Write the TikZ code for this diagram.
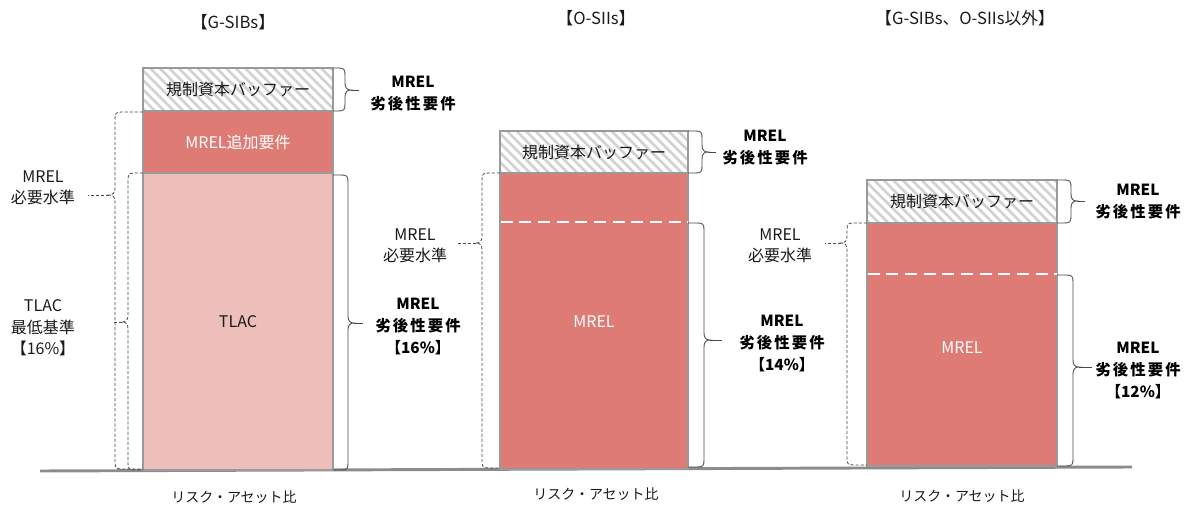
\documentclass[tikz,border=0pt]{standalone}
\usepackage{fontspec}
\setmainfont{Noto Sans CJK JP}
\usetikzlibrary{fit,calc}
\definecolor{darkred}{HTML}{DE7B75}
\definecolor{lightpink}{HTML}{EEBFBA}
\definecolor{barline}{HTML}{9A9A9A}
\definecolor{hatchc}{HTML}{D2D2D2}
\definecolor{bracec}{HTML}{4A4A4A}
\definecolor{basec}{HTML}{8C8C8C}
\definecolor{txt}{HTML}{1A1A1A}
\newcommand\lsp{\hspace{1.6pt}}
% right brace "}" : #1 bar edge x, #2 spine x, #3 leader end x, #4 ytop, #5 ytip, #6 ybot, #7 style
\newcommand\rbr[7]{%
  \draw[#7] (#1,#4) -- (#2-7,#4) .. controls (#2-1,#4) and (#2,#4+1) .. (#2,#4+7) -- (#2,#5-7)
    .. controls (#2,#5-2) and (#2+2,#5) .. (#2+6,#5) .. controls (#2+2,#5) and (#2,#5+2) .. (#2,#5+7) -- (#2,#6-7)
    .. controls (#2,#6-1) and (#2-1,#6) .. (#2-7,#6) -- (#1,#6);
  \draw[#7] (#2+6,#5) -- (#3,#5);}
% left brace "{"
\newcommand\lbr[7]{%
  \draw[#7] (#1,#4) -- (#2+7,#4) .. controls (#2+1,#4) and (#2,#4+1) .. (#2,#4+7) -- (#2,#5-7)
    .. controls (#2,#5-2) and (#2-2,#5) .. (#2-6,#5) .. controls (#2-2,#5) and (#2,#5+2) .. (#2,#5+7) -- (#2,#6-7)
    .. controls (#2,#6-1) and (#2+1,#6) .. (#2+7,#6) -- (#1,#6);
  \draw[#7] (#2-6,#5) -- (#3,#5);}
\newcommand\hatchbox[4]{%
  \begin{scope}
    \clip (#1,#2) rectangle (#3,#4);
    \foreach \i in {0,...,28} \draw[hatch] (#1-50+\i*9.5,#2) -- ++(50,50);
  \end{scope}}
\tikzset{
  barbox/.style={draw=barline, line width=0.8pt, inner sep=0pt},
  brc/.style={draw=bracec, line width=0.65pt},
  dbrc/.style={draw=bracec, line width=0.6pt, dash pattern=on 2.4pt off 1.4pt},
  hatch/.style={draw=hatchc, line width=2pt},
  wdash/.style={draw=white, line width=1.8pt, dash pattern=on 9pt off 5pt},
  lab/.style={align=center, font=\fontsize{12}{16}\selectfont, text=txt, inner sep=0pt},
  blab/.style={align=center, font=\fontsize{11.5}{16.5}\selectfont\bfseries, text=black, inner sep=0pt},
  ttl/.style={font=\fontsize{12.5}{14}\selectfont, text=txt, inner sep=0pt},
  axl/.style={font=\fontsize{10.5}{13}\selectfont, text=txt, inner sep=0pt},
}
\begin{document}
\begin{tikzpicture}[x=0.75pt, y=-0.75pt]
\useasboundingbox (0,0) rectangle (1197,506);

% base line
\coordinate (bl) at (40,471);
\coordinate (br) at (1132,467);
\draw[basec, line width=2.2pt] (bl) -- (br);

% titles
\node[ttl] (t1) at (233,22) {【G-SIBs】};
\node[ttl] (t2) at (596,18) {【O-SIIs】};
\node[ttl] (t3) at (965,18) {【G-SIBs、O-SIIs以外】};

% axis labels
\node[axl] (x1) at (234,497) {リスク・アセット比};
\node[axl] (x2) at (596,494) {リスク・アセット比};
\node[axl] (x3) at (962,496) {リスク・アセット比};

% ===== bar 1 =====
\node[barbox, fill=darkred, fit={(143,111)(333,173)}] (add1) {};
\node[barbox, fill=lightpink, fit={(143,173)(333,470)}] (tlac1) {};
\hatchbox{143}{68}{333}{111}
\node[barbox, fit={(143,68)(333,111)}] (buf1) {};
\node[lab] at (buf1.center) {規制資本バッファー};
\node[lab, text=white] at (add1.center) {MREL追加要件};
\node[lab] at (238,322) {TLAC};

\rbr{333}{345}{359}{68}{90}{111}{brc}
\rbr{333}{348}{363}{175}{323}{470}{brc}
\node[blab] (r1a) at (413,94) {MREL\\劣\lsp 後\lsp 性\lsp 要\lsp 件};
\node[blab] (r1b) at (418,327) {MREL\\劣\lsp 後\lsp 性\lsp 要\lsp 件\\【16\%】};

\lbr{143}{115}{88}{112}{195}{469}{dbrc}
\lbr{143}{128}{113}{173}{322}{470}{dbrc}
\node[lab] (l1a) at (43,188) {MREL\\必要水準};
\node[lab] (l1b) at (43,328) {TLAC\\最低基準\\【16\%】};

% ===== bar 2 =====
\node[barbox, fill=darkred, fit={(500,173)(688,469)}] (mrel2) {};
\hatchbox{500}{131}{688}{173}
\node[barbox, fit={(500,131)(688,173)}] (buf2) {};
\node[lab] at (buf2.center) {規制資本バッファー};
\node[lab, text=white] at (594,322) {MREL};
\draw[wdash] (500.5,222) -- (687.5,222);

\rbr{688}{702}{716}{131}{152}{173}{brc}
\rbr{688}{704}{722}{223}{340}{467}{brc}
\node[blab] (r2a) at (765,148) {MREL\\劣\lsp 後\lsp 性\lsp 要\lsp 件};
\node[blab] (r2b) at (782,344) {MREL\\劣\lsp 後\lsp 性\lsp 要\lsp 件\\【14\%】};

\lbr{500}{482}{458}{173}{243}{468}{dbrc}
\node[lab] (l2) at (415,246) {MREL\\必要水準};

% ===== bar 3 =====
\node[barbox, fill=darkred, fit={(867,223)(1057,466)}] (mrel3) {};
\hatchbox{867}{180}{1057}{223}
\node[barbox, fit={(867,180)(1057,223)}] (buf3) {};
\node[lab] at (buf3.center) {規制資本バッファー};
\node[lab, text=white] at (962,348) {MREL};
\draw[wdash] (867.5,274) -- (1056.5,274);

\rbr{1057}{1071}{1085}{180}{201}{223}{brc}
\rbr{1057}{1073}{1092}{275}{367}{466}{brc}
\node[blab] (r3a) at (1138,202) {MREL\\劣\lsp 後\lsp 性\lsp 要\lsp 件};
\node[blab] (r3b) at (1138,371) {MREL\\劣\lsp 後\lsp 性\lsp 要\lsp 件\\【12\%】};

\lbr{867}{847}{825}{223}{243}{465}{dbrc}
\node[lab] (l3) at (780,246) {MREL\\必要水準};
\end{tikzpicture}
\end{document}
